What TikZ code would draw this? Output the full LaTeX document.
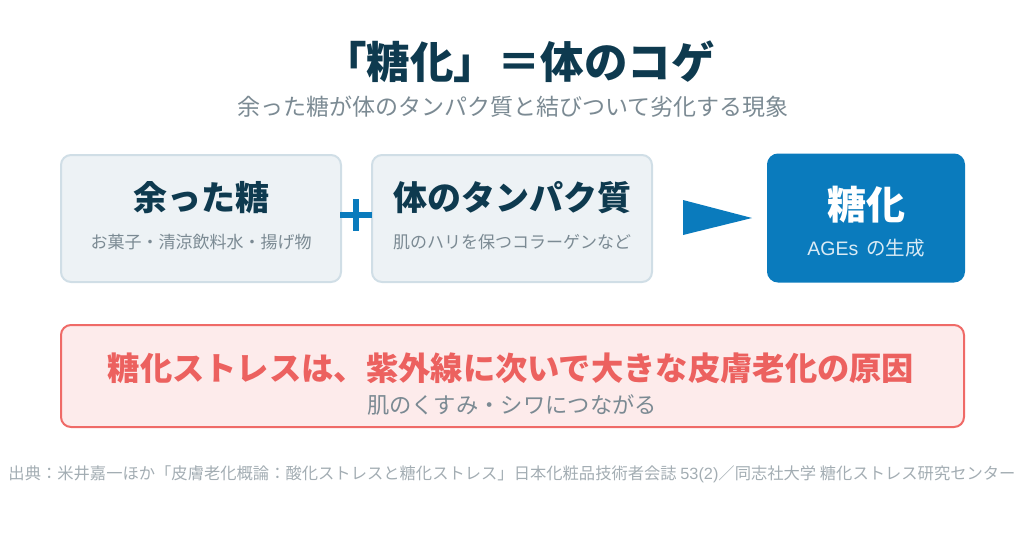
\documentclass[tikz,border=0pt]{standalone}
\usepackage{fontspec}
\setmainfont{Noto Sans CJK JP}
\newfontfamily\latinfont{Liberation Sans}
\usetikzlibrary{positioning}

\definecolor{titleblue}{HTML}{0E3A4F}
\definecolor{subgray}{HTML}{7B8A93}
\definecolor{cardfill}{HTML}{EDF2F5}
\definecolor{cardline}{HTML}{D0DEE6}
\definecolor{mainblue}{HTML}{0A7BBD}
\definecolor{redline}{HTML}{EF6A67}
\definecolor{redfill}{HTML}{FDEBEB}
\definecolor{redtext}{HTML}{EC615F}
\definecolor{notegray}{HTML}{A3ADB3}

\newcommand{\fs}[1]{\fontsize{#1}{#1}\selectfont}

\begin{document}
\begin{tikzpicture}[x=1pt, y=-1pt,
		card/.style={draw=cardline, fill=cardfill, line width=2pt, rounded corners=10pt, inner sep=0pt},
		txt/.style={inner sep=0pt, anchor=center}]
		\useasboundingbox (0, 0) rectangle (1024, 538);
		
		% Rubrik
		\node [txt, text=titleblue] (title) at (519, 62) {\fs{43.5}\bfseries 「糖化」＝体のコゲ};
		\node [txt, text=subgray] (subtitle) at (513, 107) {\fs{23}余った糖が体のタンパク質と結びついて劣化する現象};
		
		% Rutorna
		\node [card, minimum width=280pt, minimum height=127pt] (sugar) at (201, 218.5) {};
		\node [card, minimum width=280pt, minimum height=127pt] (protein) at (512, 218.5) {};
		\node [card, draw=mainblue, fill=mainblue, minimum width=196pt, minimum height=127pt] (glycation) at (866, 218) {};
		
		\node [txt, text=titleblue] (sugarhead) at (201, 198) {\fs{34}\bfseries 余った糖};
		\node [txt, text=subgray] (sugarnote) at (201, 242) {\fs{17}お菓子・清涼飲料水・揚げ物};
		\node [txt, text=titleblue] (proteinhead) at (512, 198) {\fs{34}\bfseries 体のタンパク質};
		\node [txt, text=subgray] (proteinnote) at (512, 242) {\fs{17}肌のハリを保つコラーゲンなど};
		\node [txt, text=white] (glycationhead) at (866, 205) {\fs{39}\bfseries 糖化};
		\node [txt, text=white!85!mainblue] (glycationnote) at (866, 248) {\fs{19.5}{\latinfont AGEs}\, の生成};
		
		% Plustecken och pil
		\draw [mainblue, line width=6pt] (340, 215) -- (372, 215);
		\draw [mainblue, line width=6pt] (356, 199) -- (356, 231);
		\fill [mainblue] (683, 200) -- (752, 218) -- (683, 235) -- cycle;
		
		% Slutsats
		\node [card, draw=redline, fill=redfill, minimum width=903pt, minimum height=102pt] (stress) at (512.5, 376) {};
		\node [txt, text=redtext] (stresshead) at (511, 368) {\fs{32.3}\bfseries 糖化ストレスは、紫外線に次いで大きな皮膚老化の原因};
		\node [txt, text=subgray] (stressnote) at (512, 405) {\fs{22.3}肌のくすみ・シワにつながる};
		
		% Källa
		\node [txt, text=notegray] (source) at (512, 474) {\fs{16.3}出典：米井嘉一ほか「皮膚老化概論：酸化ストレスと糖化ストレス」日本化粧品技術者会誌 {\latinfont 53(2)}／同志社大学 糖化ストレス研究センター};
	\end{tikzpicture}
\end{document}
